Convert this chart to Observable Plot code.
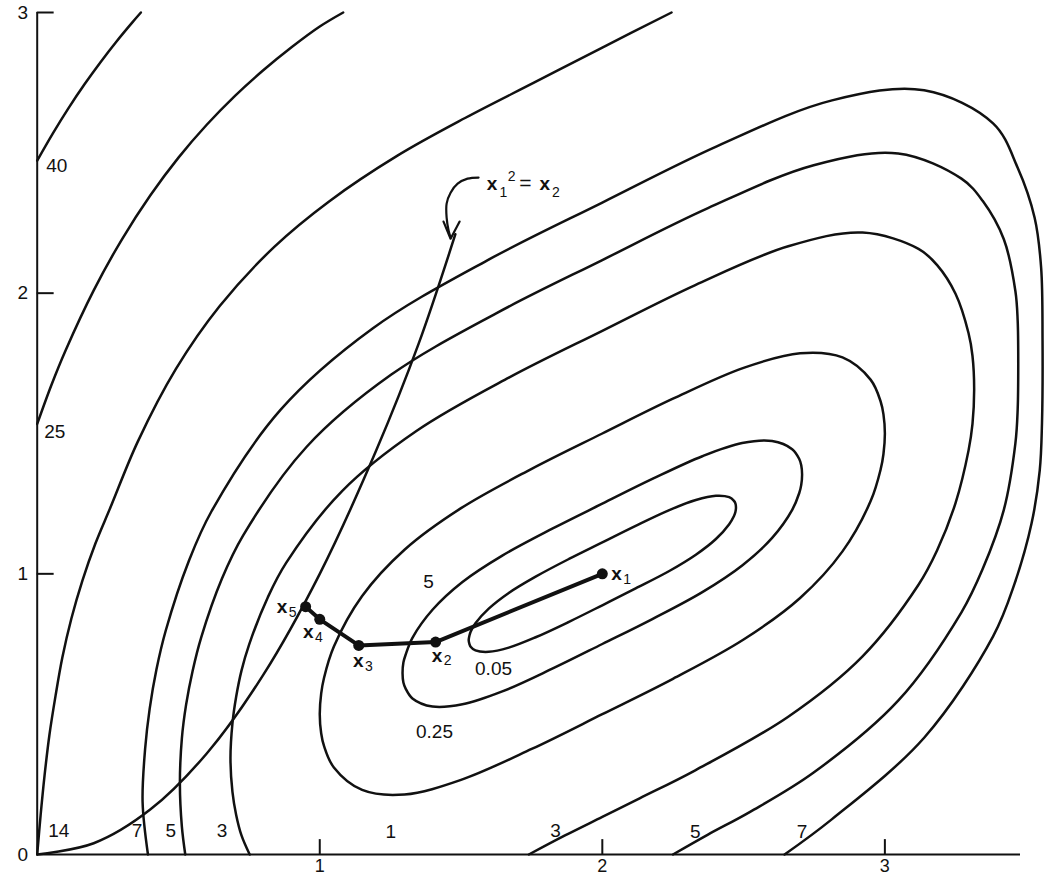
<!DOCTYPE html>
<html>
<head>
<meta charset="utf-8">
<script src="https://cdn.jsdelivr.net/npm/d3@7"></script>
<script src="https://cdn.jsdelivr.net/npm/@observablehq/plot@0.6"></script>
<style>
  html, body { margin: 0; padding: 0; background: #fff; overflow: hidden; }
  #chart svg { display: block; }
</style>
</head>
<body>
<div id="chart"></div>
<script>
// ---- axis ticks ----
const xTicks = [1, 2, 3];
const yTicks = [0, 1, 2, 3];
const yInnerTicks = [1, 2, 3];

// ---- contour lines [x1, x2] ----
const contour40 = [[0.0,2.472],[0.056,2.570],[0.112,2.661],[0.168,2.745],[0.224,2.823],[0.280,2.896],[0.336,2.964],[0.367,3.0]];
const contour25 = [[0.0,1.534],[0.05,1.672],[0.1,1.795],[0.2,2.01],[0.3,2.192],[0.4,2.348],[0.5,2.483],[0.6,2.6],[0.7,2.703],[0.8,2.794],[0.9,2.876],[1.0,2.95],[1.083,3.0]];
const contour14 = [[0.0,0.0],[0.012,0.139],[0.026,0.281],[0.043,0.424],[0.065,0.566],[0.089,0.702],[0.121,0.841],[0.160,0.976],[0.206,1.108],[0.259,1.236],[0.356,1.471],[0.491,1.730],[0.646,1.954],[0.839,2.165],[1.033,2.327],[1.275,2.49],[1.516,2.625],[1.758,2.75],[2.0,2.875],[2.245,3.0]];
const contour7 = [[0.392,0],[0.373,0.187],[0.382,0.377],[0.398,0.519],[0.422,0.659],[0.455,0.798],[0.536,1.044],[0.617,1.223],[0.861,1.584],[1.187,1.874],[1.593,2.117],[2.0,2.323],[2.407,2.524],[2.813,2.687],[3.139,2.723],[3.383,2.605],[3.470,2.447],[3.530,2.269],[3.553,2.091],[3.558,1.831],[3.556,1.535],[3.548,1.368],[3.519,1.179],[3.459,0.965],[3.383,0.777],[3.139,0.416],[2.813,0.126],[2.645,0]];
const contour5 = [[0.524,0],[0.512,0.099],[0.505,0.252],[0.512,0.414],[0.527,0.534],[0.550,0.654],[0.580,0.772],[0.654,0.983],[0.729,1.137],[0.953,1.452],[1.252,1.709],[1.626,1.929],[2.0,2.118],[2.374,2.303],[2.748,2.456],[3.047,2.498],[3.271,2.408],[3.346,2.329],[3.421,2.192],[3.462,2.007],[3.470,1.902],[3.472,1.748],[3.470,1.586],[3.462,1.466],[3.421,1.228],[3.346,1.017],[3.271,0.863],[3.047,0.548],[2.748,0.292],[2.523,0.152],[2.374,0.071],[2.250,0]];
const contour3 = [[0.752,0],[0.723,0.068],[0.704,0.142],[0.691,0.223],[0.684,0.342],[0.691,0.467],[0.704,0.561],[0.723,0.655],[0.750,0.748],[0.816,0.916],[0.881,1.039],[1.079,1.295],[1.342,1.509],[1.671,1.700],[2.0,1.866],[2.329,2.029],[2.658,2.167],[2.921,2.216],[3.119,2.158],[3.185,2.100],[3.250,1.998],[3.296,1.858],[3.310,1.777],[3.316,1.658],[3.310,1.533],[3.296,1.439],[3.250,1.252],[3.185,1.084],[3.119,0.961],[2.921,0.706],[2.658,0.491],[2.329,0.300],[2.132,0.200],[2.0,0.134],[1.868,0.068],[1.740,0]];
const contour1 = [[1.0,0.5],[1.005,0.573],[1.015,0.629],[1.05,0.741],[1.15,0.921],[1.3,1.086],[1.5,1.234],[1.75,1.374],[2.0,1.5],[2.25,1.624],[2.5,1.734],[2.7,1.786],[2.85,1.771],[2.95,1.691],[2.985,1.614],[2.995,1.568],[3.0,1.5],[2.995,1.427],[2.985,1.372],[2.95,1.26],[2.85,1.08],[2.7,0.914],[2.5,0.766],[2.25,0.626],[2.0,0.5],[1.75,0.376],[1.5,0.266],[1.3,0.214],[1.15,0.23],[1.05,0.31],[1.015,0.387],[1.005,0.432]];
const contour025 = [[1.293,0.646],[1.296,0.684],[1.304,0.712],[1.328,0.772],[1.399,0.872],[1.505,0.971],[1.646,1.065],[1.823,1.161],[2.0,1.25],[2.177,1.338],[2.354,1.419],[2.495,1.466],[2.601,1.473],[2.672,1.444],[2.697,1.409],[2.704,1.387],[2.707,1.354],[2.704,1.317],[2.697,1.288],[2.672,1.228],[2.601,1.128],[2.495,1.03],[2.354,0.935],[2.177,0.839],[2.0,0.75],[1.823,0.662],[1.646,0.581],[1.505,0.535],[1.399,0.527],[1.328,0.556],[1.304,0.591],[1.296,0.613]];
const contour005 = [[1.527,0.764],[1.530,0.781],[1.534,0.794],[1.551,0.824],[1.598,0.876],[1.669,0.932],[1.764,0.99],[1.882,1.053],[2.0,1.112],[2.118,1.171],[2.237,1.227],[2.331,1.263],[2.402,1.278],[2.449,1.273],[2.466,1.26],[2.471,1.251],[2.473,1.237],[2.471,1.22],[2.466,1.206],[2.449,1.177],[2.402,1.124],[2.331,1.068],[2.237,1.01],[2.118,0.948],[2.0,0.888],[1.882,0.829],[1.764,0.774],[1.669,0.737],[1.598,0.722],[1.551,0.727],[1.534,0.74],[1.530,0.749]];

// ---- constraint curve x1^2 = x2 (as drawn) ----
const constraintCurve = [[0,0],[0.2,0.04],[0.4,0.16],[0.6,0.36],[0.8,0.64],[1.0,1.0],[1.2,1.44],[1.35,1.82],[1.48,2.21]];

// ---- iterates x1..x5 ----
const iterSubs = ["1", "2", "3", "4", "5"];
const iterX = [2.0, 1.41, 1.138, 1.0, 0.95];
const iterY = [1.0, 0.757, 0.745, 0.838, 0.883];
const iterLabelX = [2.032, 1.396, 1.118, 0.941, 0.848];
const iterLabelY = [1.0, 0.709, 0.691, 0.792, 0.881];

// ---- contour level labels ----
const levelTextStart = ["40", "25", "14"];
const levelStartX = [0.032, 0.025, 0.039];
const levelStartY = [2.453, 1.507, 0.0855];
const levelTextMid = ["7", "5", "3", "1", "3", "5", "7", "5", "0.05", "0.25"];
const levelMidX = [0.353, 0.473, 0.654, 1.251, 1.834, 2.329, 2.707, 1.385, 1.615, 1.406];
const levelMidY = [0.0855, 0.0855, 0.0855, 0.082, 0.0855, 0.082, 0.082, 0.973, 0.663, 0.438];

// ---- annotation "x1^2 = x2" with arrow ----
const arrowCurve = [[1.562,2.412],[1.523,2.408],[1.488,2.390],[1.463,2.358],[1.449,2.319],[1.449,2.269],[1.456,2.223],[1.463,2.198]];
const arrowHead = [[1.438,2.255],[1.463,2.194],[1.495,2.255]];
const annotMain = ["x", "=", "x"];
const annotMainX = [1.591, 1.706, 1.778];
const annotMainWeight = ["bold", "normal", "bold"];
const annotSmall = ["1", "2", "2"];
const annotSmallX = [1.636, 1.665, 1.822];
const annotSmallY = [2.360, 2.415, 2.360];
const annotY = 2.390;

const iterates = iterSubs.map((s, i) => ({sub: s, x: iterX[i], y: iterY[i], lx: iterLabelX[i], ly: iterLabelY[i]}));
const startLabels = levelTextStart.map((t, i) => ({t, x: levelStartX[i], y: levelStartY[i]}));
const midLabels = levelTextMid.map((t, i) => ({t, x: levelMidX[i], y: levelMidY[i]}));
const annotBold = annotMain.map((t, i) => ({t, x: annotMainX[i], w: annotMainWeight[i]})).filter(d => d.w === "bold");
const annotNormal = annotMain.map((t, i) => ({t, x: annotMainX[i], w: annotMainWeight[i]})).filter(d => d.w !== "bold");
const annotSmallData = annotSmall.map((t, i) => ({t, x: annotSmallX[i], y: annotSmallY[i]}));

const ink = "#111";
const cw = 2.5;
const lineOpts = {x: d => d[0], y: d => d[1], stroke: ink, strokeWidth: cw, curve: "catmull-rom"};
const loopOpts = {...lineOpts, curve: "catmull-rom-closed"};

const chart = Plot.plot({
  width: 1045,
  height: 878,
  marginLeft: 36.7,
  marginRight: 25,
  marginTop: 12,
  marginBottom: 24,
  x: {domain: [0, 3.48]},
  y: {domain: [0, 3]},
  style: {fontFamily: "'Liberation Sans', Arial, Helvetica, sans-serif", fontSize: "19px", background: "#fff", color: ink},
  marks: [
    // axes frame
    Plot.ruleX([0], {y1: 0, y2: 3, stroke: ink, strokeWidth: 2}),
    Plot.ruleY([0], {x1: 0, x2: 3.48, stroke: ink, strokeWidth: 2}),
    Plot.ruleY(yInnerTicks, {y: d => d, x1: 0, x2: 0.06, stroke: ink, strokeWidth: 2}),
    Plot.ruleX(xTicks, {x: d => d, y1: 0, y2: 0.053, stroke: ink, strokeWidth: 2}),
    Plot.axisY({ticks: yTicks, tickSize: 0, tickPadding: 9, label: null, tickFormat: d => String(d), fontSize: 19}),
    Plot.axisX({ticks: xTicks, tickSize: 0, tickPadding: 5, label: null, tickFormat: d => String(d), fontSize: 18}),
    // contours
    Plot.line(contour40, lineOpts),
    Plot.line(contour25, lineOpts),
    Plot.line(contour14, lineOpts),
    Plot.line(contour7, lineOpts),
    Plot.line(contour5, lineOpts),
    Plot.line(contour3, lineOpts),
    Plot.line(contour1, loopOpts),
    Plot.line(contour025, loopOpts),
    Plot.line(contour005, loopOpts),
    // constraint curve
    Plot.line(constraintCurve, lineOpts),
    // annotation arrow and label
    Plot.line(arrowCurve, {...lineOpts, strokeWidth: 2.2}),
    Plot.line(arrowHead, {x: d => d[0], y: d => d[1], stroke: ink, strokeWidth: 2.2, curve: "linear"}),
    Plot.text(annotBold, {x: "x", y: () => annotY, text: "t", textAnchor: "start", fontWeight: "bold", fontSize: 19, fill: ink}),
    Plot.text(annotNormal, {x: "x", y: () => annotY, text: "t", textAnchor: "start", fontSize: 21, fill: ink}),
    Plot.text(annotSmallData, {x: "x", y: "y", text: "t", textAnchor: "start", fontSize: 14, fill: ink}),
    // iterate path
    Plot.line(iterates, {x: "x", y: "y", stroke: ink, strokeWidth: 4, curve: "linear"}),
    Plot.dot(iterates, {x: "x", y: "y", r: 5.5, fill: ink, stroke: null}),
    Plot.text(iterates, {x: "lx", y: "ly", text: () => "x", textAnchor: "start", fontWeight: "bold", fontSize: 19, fill: ink}),
    Plot.text(iterates, {x: "lx", y: "ly", text: "sub", textAnchor: "start", dx: 12, dy: 5.5, fontSize: 14, fill: ink}),
    // contour level labels
    Plot.text(startLabels, {x: "x", y: "y", text: "t", textAnchor: "start", fontSize: 19, fill: ink}),
    Plot.text(midLabels, {x: "x", y: "y", text: "t", textAnchor: "middle", fontSize: 19, fill: ink})
  ]
});
document.getElementById("chart").appendChild(chart);
</script>
</body>
</html>
